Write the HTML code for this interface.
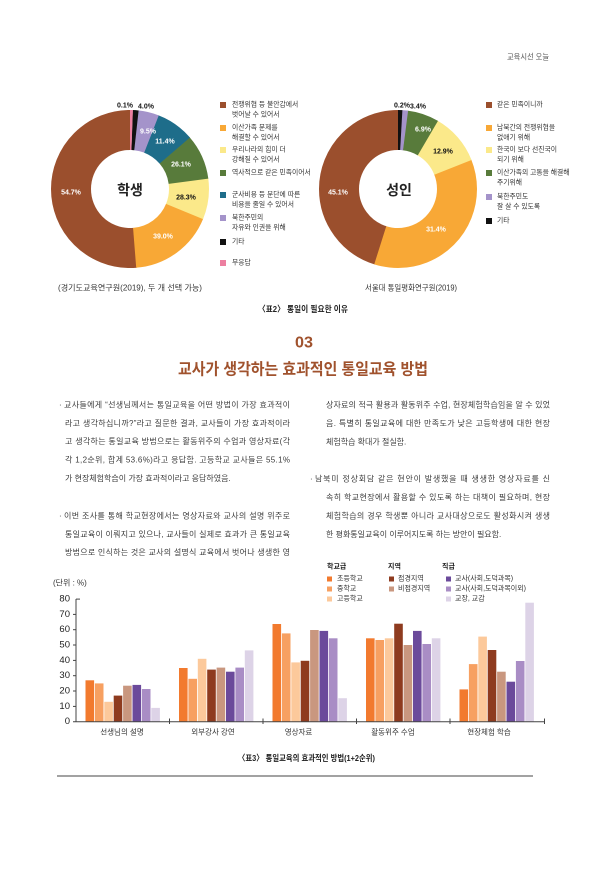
<!DOCTYPE html>
<html lang="ko">
<head>
<meta charset="utf-8">
<style>
  html,body{margin:0;padding:0;background:#fff;}
  body{width:608px;height:869px;overflow:hidden;position:relative;}
  svg{position:absolute;left:0;top:0;font-family:"Liberation Sans","Noto Sans CJK KR",sans-serif;}
</style>
</head>
<body>
<svg width="608" height="869" viewBox="0 0 608 869" xmlns="http://www.w3.org/2000/svg">
  <!-- header -->
  <text x="549" y="57" font-size="8" fill="#555" text-anchor="end" dominant-baseline="central" textLength="42" lengthAdjust="spacingAndGlyphs">교육시선 오늘</text>

  <!-- LEFT DONUT -->
  <g transform="rotate(-90 130 189)" fill="none" stroke-width="40">
    <circle cx="130" cy="189" r="59" stroke="#9b4f2d" stroke-dasharray="191 1000" stroke-dashoffset="-180.21"/>
    <circle cx="130" cy="189" r="59" stroke="#f8a836" stroke-dasharray="65.3 1000" stroke-dashoffset="-115.33"/>
    <circle cx="130" cy="189" r="59" stroke="#fbe98a" stroke-dasharray="31.3 1000" stroke-dashoffset="-84.44"/>
    <circle cx="130" cy="189" r="59" stroke="#587b3b" stroke-dasharray="34.4 1000" stroke-dashoffset="-50.46"/>
    <circle cx="130" cy="189" r="59" stroke="#1e6d8a" stroke-dasharray="29.2 1000" stroke-dashoffset="-21.62"/>
    <circle cx="130" cy="189" r="59" stroke="#a493ca" stroke-dasharray="15.8 1000" stroke-dashoffset="-6.18"/>
    <circle cx="130" cy="189" r="59" stroke="#111111" stroke-dasharray="4.4 1000" stroke-dashoffset="-2.06"/>
    <circle cx="130" cy="189" r="59" stroke="#ec7fa0" stroke-dasharray="2.2 1000" stroke-dashoffset="0"/>
  </g>
  <g font-size="7" font-weight="bold" text-anchor="middle" dominant-baseline="central">
    <text x="125" y="106" fill="#111">0.1%</text>
    <text x="146" y="107" fill="#111">4.0%</text>
    <text x="148" y="132" fill="#fff">9.5%</text>
    <text x="165" y="142" fill="#fff">11.4%</text>
    <text x="181" y="165" fill="#fff">26.1%</text>
    <text x="186" y="198" fill="#111">28.3%</text>
    <text x="163" y="237" fill="#fff">39.0%</text>
    <text x="71" y="193" fill="#fff">54.7%</text>
  </g>
  <text x="130" y="190" font-size="14" font-weight="bold" fill="#222" text-anchor="middle" dominant-baseline="central">학생</text>

  <!-- left legend -->
  <g font-size="6.8" fill="#333" dominant-baseline="central">
    <rect x="220" y="102" width="6" height="6" fill="#9b4f2d"/>
    <text x="232" y="105">전쟁위협 등 불안감에서</text>
    <text x="232" y="115">벗어날 수 있어서</text>
    <rect x="220" y="125" width="6" height="6" fill="#f8a836"/>
    <text x="232" y="128">이산가족 문제를</text>
    <text x="232" y="138">해결할 수 있어서</text>
    <rect x="220" y="147" width="6" height="6" fill="#fbe98a"/>
    <text x="232" y="150">우리나라의 힘이 더</text>
    <text x="232" y="160">강해질 수 있어서</text>
    <rect x="220" y="170" width="6" height="6" fill="#587b3b"/>
    <text x="232" y="173">역사적으로 같은 민족이어서</text>
    <rect x="220" y="192" width="6" height="6" fill="#1e6d8a"/>
    <text x="232" y="195">군사비용 등 분단에 따른</text>
    <text x="232" y="205">비용을 줄일 수 있어서</text>
    <rect x="220" y="215" width="6" height="6" fill="#a493ca"/>
    <text x="232" y="218">북한주민의</text>
    <text x="232" y="228">자유와 인권을 위해</text>
    <rect x="220" y="239" width="6" height="6" fill="#111"/>
    <text x="232" y="242">기타</text>
    <rect x="220" y="260" width="6" height="6" fill="#ec7fa0"/>
    <text x="232" y="263">무응답</text>
  </g>
  <text x="58" y="288" font-size="8" fill="#333" dominant-baseline="central" textLength="144" lengthAdjust="spacingAndGlyphs">(경기도교육연구원(2019), 두 개 선택 가능)</text>

  <!-- RIGHT DONUT -->
  <g transform="rotate(-90 398 189)" fill="none" stroke-width="40">
    <circle cx="398" cy="189" r="59" stroke="#9b4f2d" stroke-dasharray="168.3 1000" stroke-dashoffset="-202.86"/>
    <circle cx="398" cy="189" r="59" stroke="#f8a836" stroke-dasharray="133.3 1000" stroke-dashoffset="-70.02"/>
    <circle cx="398" cy="189" r="59" stroke="#fbe98a" stroke-dasharray="39.6 1000" stroke-dashoffset="-30.89"/>
    <circle cx="398" cy="189" r="59" stroke="#587b3b" stroke-dasharray="24.1 1000" stroke-dashoffset="-7.21"/>
    <circle cx="398" cy="189" r="59" stroke="#a493ca" stroke-dasharray="4.5 1000" stroke-dashoffset="-3.09"/>
    <circle cx="398" cy="189" r="59" stroke="#111111" stroke-dasharray="3.3 1000" stroke-dashoffset="0"/>
  </g>
  <g font-size="7" font-weight="bold" text-anchor="middle" dominant-baseline="central">
    <text x="402" y="106" fill="#111">0.2%</text>
    <text x="418" y="107" fill="#111">3.4%</text>
    <text x="423" y="130" fill="#fff">6.9%</text>
    <text x="443" y="152" fill="#111">12.9%</text>
    <text x="436" y="230" fill="#fff">31.4%</text>
    <text x="338" y="193" fill="#fff">45.1%</text>
  </g>
  <text x="399" y="190" font-size="14" font-weight="bold" fill="#222" text-anchor="middle" dominant-baseline="central">성인</text>

  <!-- right legend -->
  <g font-size="6.8" fill="#333" dominant-baseline="central">
    <rect x="486" y="102" width="6" height="6" fill="#9b4f2d"/>
    <text x="497" y="105">같은 민족이니까</text>
    <rect x="486" y="125" width="6" height="6" fill="#f8a836"/>
    <text x="497" y="128">남북간의 전쟁위협을</text>
    <text x="497" y="138">없애기 위해</text>
    <rect x="486" y="147" width="6" height="6" fill="#fbe98a"/>
    <text x="497" y="150">한국이 보다 선진국이</text>
    <text x="497" y="160">되기 위해</text>
    <rect x="486" y="170" width="6" height="6" fill="#587b3b"/>
    <text x="497" y="173">이산가족의 고통을 해결해</text>
    <text x="497" y="183">주기위해</text>
    <rect x="486" y="194" width="6" height="6" fill="#a493ca"/>
    <text x="497" y="197">북한주민도</text>
    <text x="497" y="207">잘 살 수 있도록</text>
    <rect x="486" y="218" width="6" height="6" fill="#111"/>
    <text x="497" y="221">기타</text>
  </g>
  <text x="365" y="288" font-size="8" fill="#333" dominant-baseline="central" textLength="92" lengthAdjust="spacingAndGlyphs">서울대 통일평화연구원(2019)</text>

  <!-- caption 표2 -->
  <text x="258" y="309" font-size="8.5" font-weight="bold" fill="#222" dominant-baseline="central" textLength="90" lengthAdjust="spacingAndGlyphs">〈표2〉 통일이 필요한 이유</text>

  <!-- section title -->
  <text x="304" y="343" font-size="16" font-weight="bold" fill="#a0522d" text-anchor="middle" dominant-baseline="central" textLength="18" lengthAdjust="spacingAndGlyphs">03</text>
  <text x="178" y="370" font-size="16" font-weight="bold" fill="#a0522d" dominant-baseline="central" textLength="250" lengthAdjust="spacingAndGlyphs">교사가 생각하는 효과적인 통일교육 방법</text>

  <!-- paragraphs -->
  <g font-size="8" fill="#3a3a3a" dominant-baseline="central">
    <text x="59" y="405">·</text>
    <text x="64" y="405" textLength="226" lengthAdjust="spacing">교사들에게 “선생님께서는 통일교육을 어떤 방법이 가장 효과적이</text>
    <text x="65" y="423.3" textLength="225" lengthAdjust="spacing">라고 생각하십니까?”라고 질문한 결과, 교사들이 가장 효과적이라</text>
    <text x="65" y="441.7" textLength="225" lengthAdjust="spacing">고 생각하는 통일교육 방법으로는 활동위주의 수업과 영상자료(각</text>
    <text x="65" y="460" textLength="225" lengthAdjust="spacing">각 1,2순위, 합계 53.6%)라고 응답함. 고등학교 교사들은 55.1%</text>
    <text x="65" y="478.3">가 현장체험학습이 가장 효과적이라고 응답하였음.</text>

    <text x="59" y="516">·</text>
    <text x="64" y="516" textLength="226" lengthAdjust="spacing">이번 조사를 통해 학교현장에서는 영상자료와 교사의 설명 위주로</text>
    <text x="65" y="534.3" textLength="225" lengthAdjust="spacing">통일교육이 이뤄지고 있으나, 교사들이 실제로 효과가 큰 통일교육</text>
    <text x="65" y="552.7" textLength="225" lengthAdjust="spacing">방법으로 인식하는 것은 교사의 설명식 교육에서 벗어나 생생한 영</text>

    <text x="326" y="405" textLength="224" lengthAdjust="spacing">상자료의 적극 활용과 활동위주 수업, 현장체험학습임을 알 수 있었</text>
    <text x="326" y="423.5" textLength="224" lengthAdjust="spacing">음. 특별히 통일교육에 대한 만족도가 낮은 고등학생에 대한 현장</text>
    <text x="326" y="442">체험학습 확대가 절실함.</text>

    <text x="310" y="479">·</text>
    <text x="315" y="479" textLength="235" lengthAdjust="spacing">남북미 정상회담 같은 현안이 발생했을 때 생생한 영상자료를 신</text>
    <text x="326" y="497.5" textLength="224" lengthAdjust="spacing">속히 학교현장에서 활용할 수 있도록 하는 대책이 필요하며, 현장</text>
    <text x="326" y="516" textLength="224" lengthAdjust="spacing">체험학습의 경우 학생뿐 아니라 교사대상으로도 활성화시켜 생생</text>
    <text x="326" y="534.3">한 평화통일교육이 이루어지도록 하는 방안이 필요함.</text>
  </g>

  <!-- bar chart legend -->
  <g font-size="7" fill="#333" dominant-baseline="central">
    <text x="327" y="567" font-weight="bold" fill="#222">학교급</text>
    <text x="388" y="567" font-weight="bold" fill="#222">지역</text>
    <text x="442" y="567" font-weight="bold" fill="#222">직급</text>

    <rect x="327" y="576.5" width="5" height="5" fill="#f27a2e"/>
    <text x="337" y="579">초등학교</text>
    <rect x="327" y="586.5" width="5" height="5" fill="#f7a061"/>
    <text x="337" y="589">중학교</text>
    <rect x="327" y="596.5" width="5" height="5" fill="#fcc99b"/>
    <text x="337" y="599">고등학교</text>

    <rect x="389" y="576.5" width="5" height="5" fill="#8e3b1f"/>
    <text x="398" y="579">접경지역</text>
    <rect x="389" y="586.5" width="5" height="5" fill="#c9977f"/>
    <text x="398" y="589">비접경지역</text>

    <rect x="446" y="576.5" width="5" height="5" fill="#6b4a9b"/>
    <text x="455" y="579">교사(사회,도덕과목)</text>
    <rect x="446" y="586.5" width="5" height="5" fill="#a98dc5"/>
    <text x="455" y="589">교사(사회,도덕과목이외)</text>
    <rect x="446" y="596.5" width="5" height="5" fill="#ddd3e7"/>
    <text x="455" y="599">교장, 교감</text>
  </g>

  <!-- unit -->
  <text x="53" y="583" font-size="8" fill="#333" dominant-baseline="central">(단위 : %)</text>

  <!-- y axis labels -->
  <g font-size="9.5" fill="#222" text-anchor="end" dominant-baseline="central">
    <text x="70" y="599.1">80</text>
    <text x="70" y="614.4">70</text>
    <text x="70" y="629.7">60</text>
    <text x="70" y="645">50</text>
    <text x="70" y="660.4">40</text>
    <text x="70" y="675.7">30</text>
    <text x="70" y="691">20</text>
    <text x="70" y="706.4">10</text>
    <text x="70" y="721.7">0</text>
  </g>

  <!-- bars -->
  <g>
    <rect x="85.5" y="680.3" width="8.6" height="41.4" fill="#f27a2e"/>
    <rect x="94.9" y="683.4" width="8.6" height="38.3" fill="#f7a061"/>
    <rect x="104.3" y="701.8" width="8.6" height="19.9" fill="#fcc99b"/>
    <rect x="113.7" y="695.6" width="8.6" height="26.1" fill="#8e3b1f"/>
    <rect x="123.1" y="685.7" width="8.6" height="36" fill="#c9977f"/>
    <rect x="132.5" y="684.9" width="8.6" height="36.8" fill="#6b4a9b"/>
    <rect x="141.9" y="689" width="8.6" height="32.7" fill="#a98dc5"/>
    <rect x="151.3" y="707.9" width="8.6" height="13.8" fill="#ddd3e7"/>

    <rect x="179" y="668" width="8.6" height="53.7" fill="#f27a2e"/>
    <rect x="188.4" y="678.8" width="8.6" height="42.9" fill="#f7a061"/>
    <rect x="197.8" y="658.8" width="8.6" height="62.9" fill="#fcc99b"/>
    <rect x="207.2" y="669.6" width="8.6" height="52.1" fill="#8e3b1f"/>
    <rect x="216.6" y="667.6" width="8.6" height="54.1" fill="#c9977f"/>
    <rect x="226" y="671.7" width="8.6" height="50" fill="#6b4a9b"/>
    <rect x="235.4" y="667.6" width="8.6" height="54.1" fill="#a98dc5"/>
    <rect x="244.8" y="650.4" width="8.6" height="71.3" fill="#ddd3e7"/>

    <rect x="272.5" y="624" width="8.6" height="97.7" fill="#f27a2e"/>
    <rect x="281.9" y="633.4" width="8.6" height="88.3" fill="#f7a061"/>
    <rect x="291.3" y="662.4" width="8.6" height="59.3" fill="#fcc99b"/>
    <rect x="300.7" y="660.8" width="8.6" height="60.9" fill="#8e3b1f"/>
    <rect x="310.1" y="630" width="8.6" height="91.7" fill="#c9977f"/>
    <rect x="319.5" y="630.9" width="8.6" height="90.8" fill="#6b4a9b"/>
    <rect x="328.9" y="638.3" width="8.6" height="83.4" fill="#a98dc5"/>
    <rect x="338.3" y="698.2" width="8.6" height="23.5" fill="#ddd3e7"/>

    <rect x="366" y="638.3" width="8.6" height="83.4" fill="#f27a2e"/>
    <rect x="375.4" y="640" width="8.6" height="81.7" fill="#f7a061"/>
    <rect x="384.8" y="638.3" width="8.6" height="83.4" fill="#fcc99b"/>
    <rect x="394.2" y="623.7" width="8.6" height="98" fill="#8e3b1f"/>
    <rect x="403.6" y="645" width="8.6" height="76.7" fill="#c9977f"/>
    <rect x="413" y="630.9" width="8.6" height="90.8" fill="#6b4a9b"/>
    <rect x="422.4" y="644" width="8.6" height="77.7" fill="#a98dc5"/>
    <rect x="431.8" y="638.3" width="8.6" height="83.4" fill="#ddd3e7"/>

    <rect x="459.5" y="689.4" width="8.6" height="32.3" fill="#f27a2e"/>
    <rect x="468.9" y="664.1" width="8.6" height="57.6" fill="#f7a061"/>
    <rect x="478.3" y="636.6" width="8.6" height="85.1" fill="#fcc99b"/>
    <rect x="487.7" y="650" width="8.6" height="71.7" fill="#8e3b1f"/>
    <rect x="497.1" y="671.7" width="8.6" height="50" fill="#c9977f"/>
    <rect x="506.5" y="681.7" width="8.6" height="40" fill="#6b4a9b"/>
    <rect x="515.9" y="661" width="8.6" height="60.7" fill="#a98dc5"/>
    <rect x="525.3" y="602.7" width="8.6" height="119" fill="#ddd3e7"/>
  </g>

  <!-- axes -->
  <g stroke="#444" stroke-width="1" fill="none">
    <line x1="76" y1="599" x2="76" y2="722"/>
    <line x1="76" y1="599.1" x2="80" y2="599.1"/>
    <line x1="73" y1="614.4" x2="76" y2="614.4"/>
    <line x1="73" y1="629.7" x2="76" y2="629.7"/>
    <line x1="73" y1="645" x2="76" y2="645"/>
    <line x1="73" y1="660.4" x2="76" y2="660.4"/>
    <line x1="73" y1="675.7" x2="76" y2="675.7"/>
    <line x1="73" y1="691" x2="76" y2="691"/>
    <line x1="73" y1="706.4" x2="76" y2="706.4"/>
    <line x1="73" y1="721.7" x2="545" y2="721.7"/>
    <line x1="169.5" y1="718.5" x2="169.5" y2="724"/>
    <line x1="263" y1="718.5" x2="263" y2="724"/>
    <line x1="356.5" y1="718.5" x2="356.5" y2="724"/>
    <line x1="450" y1="718.5" x2="450" y2="724"/>
    <line x1="544.5" y1="718.5" x2="544.5" y2="724"/>
  </g>

  <!-- category labels -->
  <g font-size="7.5" fill="#333" dominant-baseline="central" text-anchor="middle">
    <text x="122" y="732">선생님의 설명</text>
    <text x="213" y="732">외부강사 강연</text>
    <text x="298.5" y="732">영상자료</text>
    <text x="393" y="732">활동위주 수업</text>
    <text x="489" y="732">현장체험 학습</text>
  </g>

  <!-- caption 표3 -->
  <text x="238" y="758" font-size="8.5" font-weight="bold" fill="#222" dominant-baseline="central" textLength="137" lengthAdjust="spacingAndGlyphs">〈표3〉 통일교육의 효과적인 방법(1+2순위)</text>

  <!-- bottom rule -->
  <line x1="57" y1="776" x2="533" y2="776" stroke="#444" stroke-width="1"/>
</svg>
</body>
</html>
